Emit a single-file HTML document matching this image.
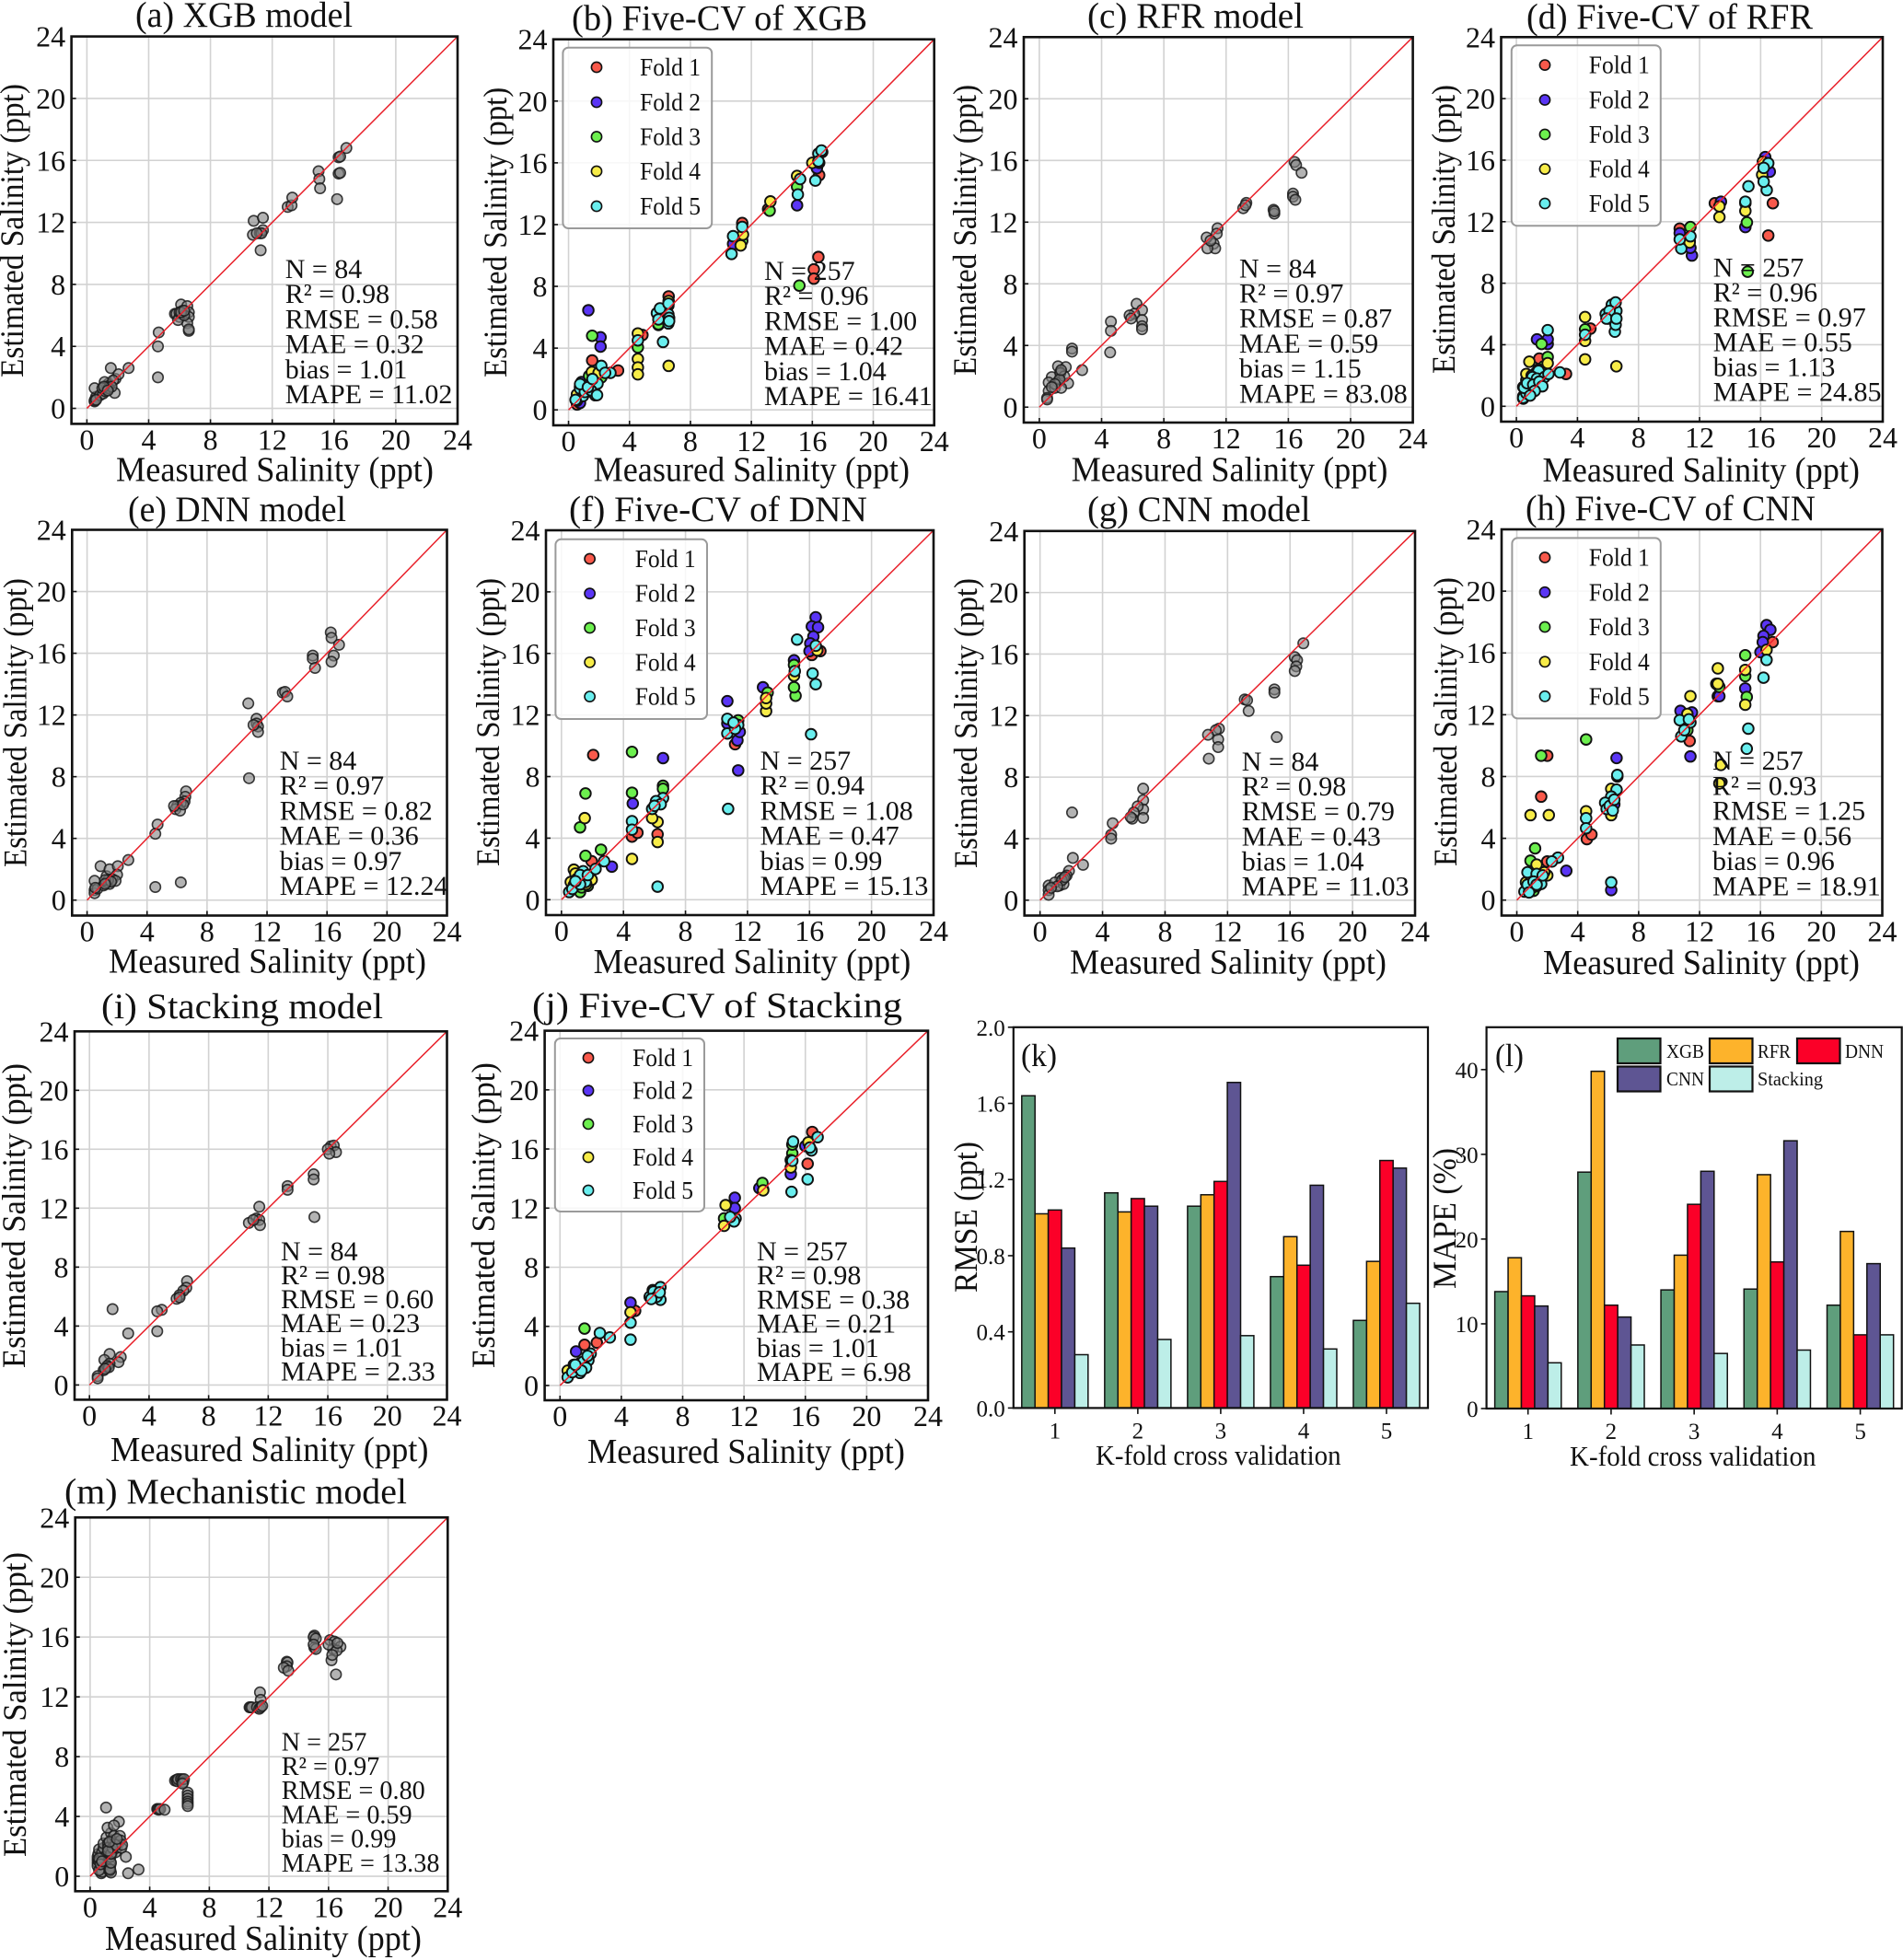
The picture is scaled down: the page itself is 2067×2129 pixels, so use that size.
<!DOCTYPE html>
<html lang="en">
<head>
<meta charset="utf-8">
<title>Salinity model comparison</title>
<style>
html,body{margin:0;padding:0;background:#fff;}
svg{display:block;}
text{font-family:"Liberation Serif","Times New Roman",serif;fill:#111;}
</style>
</head>
<body>
<svg id="figure" xmlns="http://www.w3.org/2000/svg" width="2067" height="2129" viewBox="0 0 2067 2129"></svg>
<script>
/* ---------- chart data ---------- */
const tickValues=[0,4,8,12,16,20,24];
const foldNames=['Fold 1','Fold 2','Fold 3','Fold 4','Fold 5'];
const statNames=['N','R²','RMSE','MAE','bias','MAPE'];

const statsA=['84','0.98','0.58','0.32','1.01','11.02'];
const statsB=['257','0.96','1.00','0.42','1.04','16.41'];
const statsC=['84','0.97','0.87','0.59','1.15','83.08'];
const statsD=['257','0.96','0.97','0.55','1.13','24.85'];
const statsE=['84','0.97','0.82','0.36','0.97','12.24'];
const statsF=['257','0.94','1.08','0.47','0.99','15.13'];
const statsG=['84','0.98','0.79','0.43','1.04','11.03'];
const statsH=['257','0.93','1.25','0.56','0.96','18.91'];
const statsI=['84','0.98','0.60','0.23','1.01','2.33'];
const statsJ=['257','0.98','0.38','0.21','1.01','6.98'];
const statsM=['257','0.97','0.80','0.59','0.99','13.38'];

const xgbModel=[[0.5,0.45],[0.55,0.6],[0.6,0.75],[0.5,1.3],[0.5,0.5],[0.85,0.85],[1.05,0.95],[1.25,1.25],[1.4,1.6],[1.15,1.7],[1.3,1.4],[1.5,1.5],[1.2,1.1],[1.55,2.6],[1.8,1.0],[1.85,1.9],[2.05,2.2],[1.7,1.8],[2.7,2.6],[0.6,0.55],[1.0,1.3],[1.4,1.3],[1.6,1.4],[1.1,1.4],[1.35,1.15],[4.6,2.0],[4.6,4.0],[4.65,4.9],[6.1,6.7],[5.7,6.1],[5.8,6.1],[6.0,5.9],[6.2,6.3],[6.5,6.6],[6.6,6.2],[6.6,5.9],[6.5,5.5],[6.6,5.0],[6.6,5.1],[5.9,5.7],[6.0,6.2],[6.3,6.0],[6.1,6.2],[6.3,6.3],[10.8,12.1],[11.4,12.3],[10.75,11.2],[11.2,11.3],[11.4,11.5],[11.3,11.3],[11.25,10.2],[11.0,11.3],[13.0,13.0],[13.25,13.1],[13.3,13.6],[15.0,15.3],[15.05,14.8],[15.1,14.2],[16.2,13.5],[16.3,15.15],[16.4,15.2],[16.3,16.2],[16.4,16.25],[16.8,16.8]];

const rfrModel=[[16.4,15.9],[16.5,15.7],[16.85,15.2],[16.3,13.85],[16.3,13.65],[16.45,13.45],[15.05,12.8],[15.1,12.55],[15.1,12.7],[13.3,13.25],[13.1,12.9],[13.25,13.1],[11.45,11.6],[11.4,11.25],[11.2,10.6],[11.3,10.3],[10.8,10.3],[10.75,11],[11,10.8],[6.25,6.7],[6.6,6.3],[6.1,6.05],[5.8,5.95],[5.9,5.75],[6.6,5.65],[6.6,5.25],[6.6,5.05],[4.6,5.55],[4.6,4.95],[4.55,3.55],[2.1,3.8],[2.1,3.6],[2.75,2.4],[1.2,2.65],[1.7,2.6],[1.35,2.25],[1.85,1.55],[0.8,1.95],[0.6,1.6],[1.2,1.65],[1.35,2.2],[0.6,1.05],[0.5,0.6],[0.5,0.5],[1,1.25],[1.4,1.25],[1.6,2],[1.3,1.8],[1.0,1.5],[1.4,2.4],[0.8,1.3]];

const dnnModel=[[16.25,17.35],[16.3,17],[16.8,16.55],[16.45,15.85],[16.3,15.45],[15.05,15.85],[15.05,15.65],[15.2,15.05],[13.05,13.45],[13.2,13.5],[13.35,13.2],[10.75,12.75],[10.8,7.9],[11.3,11.75],[11.3,11.45],[11.4,11.25],[11.4,10.9],[11.1,11.35],[6.6,7.05],[6.55,6.7],[6.5,6.4],[6.25,6.3],[6,6.1],[5.9,5.9],[6.2,5.8],[5.8,6.1],[6.4,6.2],[4.7,4.9],[4.55,4.3],[4.55,0.85],[6.25,1.15],[2.75,2.6],[0.9,2.2],[0.5,1.25],[0.5,0.65],[0.5,0.45],[0.7,0.75],[1.3,1.55],[1.5,2],[2.05,2.2],[2,1.65],[1.5,1.05],[1.1,0.95],[1.7,1.35],[1.3,1.15],[1.9,1.25],[0.55,0.8],[1.4,1.3],[1.2,1.3],[1.6,1.2],[1.2,1.05]];

const cnnModel=[[16.85,16.7],[16.3,15.8],[16.45,15.6],[16.4,15.2],[16.3,14.9],[15,13.7],[15,13.5],[15.15,10.6],[13.1,13.05],[13.25,13],[13.35,12.3],[11.45,11.15],[11.25,11.05],[10.75,10.75],[11.4,10.45],[11.4,9.95],[10.8,9.2],[6.6,7.25],[6.6,6.5],[6.6,5.9],[6.6,5.35],[6.25,6.1],[6,5.7],[5.9,5.3],[5.8,5.4],[4.65,5],[4.55,4.25],[4.55,4],[2.05,5.7],[2.1,2.75],[2.75,2.3],[1.85,1.9],[1.7,1.6],[1.3,1.45],[1.5,1.4],[1.25,0.95],[0.55,0.95],[0.55,0.65],[0.55,0.35],[0.95,1.15],[1.5,1.05],[1.4,1.3],[1.6,1.5],[1.1,0.9],[0.7,0.8]];

const stackingModel=[[16.2,16.2],[16.4,16.25],[16,16],[16.55,15.8],[16.1,15.7],[15.05,14.3],[15.05,13.95],[15.1,11.4],[13.3,13.5],[13.3,13.25],[11.4,12.1],[11.2,11.3],[11.4,11.2],[10.7,11],[11.45,10.85],[11,11.2],[6.55,7.05],[6.5,6.6],[6.3,6.4],[6.05,6.1],[5.85,5.85],[6.05,5.95],[4.85,5.1],[4.55,5],[4.55,3.65],[1.55,5.15],[2.6,3.5],[2.1,1.9],[1.35,2.1],[1,1.7],[1.95,1.55],[1.15,1.2],[1.35,1.45],[0.95,1],[0.55,0.6],[0.55,0.45],[1.2,1.3],[1.3,1.2],[1.05,1.1]];

const mechanisticModel=[[0.5,0.9],[0.5,1.1],[0.5,1.3],[0.5,0.7],[0.55,1.5],[0.6,1.8],[0.7,0.5],[0.7,1.2],[0.75,0.2],[0.8,0.3],[0.8,1.6],[0.9,1.9],[0.9,2.2],[1.0,1.0],[1.1,2.6],[1.1,1.4],[1.2,2.2],[1.25,0.5],[1.3,0.35],[1.35,0.7],[1.35,1.0],[1.35,1.3],[1.35,1.7],[1.35,2.0],[1.4,2.9],[1.4,0.25],[1.45,1.5],[1.5,2.4],[1.55,1.8],[1.6,2.7],[1.7,1.6],[1.8,1.9],[1.9,2.2],[2.0,2.7],[2.05,2.4],[2.1,1.9],[2.15,2.1],[1.2,1.9],[0.6,1.0],[0.6,1.2],[0.6,0.4],[0.7,0.8],[0.8,1.0],[1.3,0.5],[1.35,0.45],[1.4,0.9],[1.4,1.5],[1.5,1.9],[1.7,2.1],[1.2,1.7],[1.3,2.3],[1.8,2.5],[1.07,4.6],[1.93,3.65],[1.17,3.25],[1.6,3.4],[2.4,1.3],[2.55,0.2],[3.25,0.45],[4.5,4.5],[4.55,4.5],[4.6,4.45],[4.7,4.5],[5,4.45],[5.7,6.4],[5.8,6.45],[5.85,6.35],[5.9,6.5],[6.1,6.5],[6.2,6.45],[6.25,6.3],[6.3,6.5],[6.2,6.2],[6.55,5.6],[6.55,5.4],[6.55,5.2],[6.55,5.0],[6.55,4.85],[6.55,4.7],[11.4,12.3],[11.45,11.8],[10.7,11.3],[10.75,11.3],[10.85,11.3],[11.2,11.3],[11.35,11.2],[11.45,11.3],[11.55,11.4],[13.2,14.35],[13.25,14.3],[13.2,14.05],[13,13.95],[13.3,13.75],[15.05,16.1],[15,16],[15.15,15.9],[15.05,15.3],[15.15,15.2],[15,15.5],[16.1,15.8],[16.4,15.7],[16.8,15.35],[16.3,15.2],[16.2,14.45],[16.5,13.5],[16,15.5],[16.55,15.1],[16.25,14.8],[16.6,15.6]];

const xgbFold1=[[16.4,9.9],[16.1,9.1],[16.1,8.5],[16.45,15.2],[16.65,16.7],[11.4,12.1],[13.1,13],[6.57,7.35],[4.85,4.85],[1.55,3.2],[3.25,2.55],[0.6,0.5],[1.3,1.2],[0.56,0.35]];
const xgbFold2=[[1.3,6.45],[2.1,4.7],[2.1,4.1],[15,13.25],[16.3,15.65],[16.45,16],[10.8,10.75],[0.85,1.8],[0.75,0.45]];
const xgbFold3=[[1.55,4.8],[15.15,8.05],[4.55,4.05],[15,14.45],[13.2,12.9],[5.9,5.5],[11.4,10.95],[1.35,2.2],[0.55,0.9],[2.15,2.1],[5.9,5.55]];
const xgbFold4=[[6.57,2.85],[4.55,3.3],[4.55,2.75],[4.55,2.3],[4.55,4.95],[15,15.15],[13.25,13.5],[11.3,10.65],[11.45,11.35],[16,16],[6.57,7.05],[1.75,2.3],[0.55,1],[1.53,2.45],[1.97,2.4]];
const xgbFold5=[[6.2,4.4],[16.2,14.85],[15.05,13.95],[15.2,14.95],[10.7,10.1],[10.8,11.25],[11.4,11.85],[16.4,16.6],[16.6,16.8],[16.4,16.1],[6.55,5.6],[5.9,6.1],[6.15,6.3],[6.55,6.75],[6.55,6.2],[4.55,4.5],[2.15,2.85],[2.75,2.4],[0.75,1.5],[1.15,1.2],[1.75,0.95],[0.55,0.6],[1.35,1.5],[1.9,1.7],[0.95,0.9],[0.46,0.65],[0.76,1.37],[1.07,1.16],[1.47,1.27],[1.87,0.96],[0.76,1.67],[1.27,1.47],[2.4,2.4],[1.57,2],[5.8,6.27],[6,6.57],[6.56,6.88],[6.6,5.96],[6.6,5.75],[5.9,5.86]];

const rfrFold1=[[16.8,13.2],[16.5,11.1],[13,13.2],[10.7,11.55],[4.85,5.05],[3.25,2.1],[1.5,3.1],[0.45,0.5]];
const rfrFold2=[[16.3,16.2],[16.6,15.25],[13.4,13.3],[15,11.65],[11.5,9.8],[11.4,10.3],[10.7,11.25],[1.35,4.35],[2.05,4.05],[2.05,4.35],[0.45,1.25]];
const rfrFold3=[[15.15,8.75],[15.1,11.95],[11.4,11.65],[1.65,4.05],[2.05,3.2],[6.05,5.7],[4.5,5],[11.35,10.75],[15,13.2],[0.65,1.7],[1.3,2.2],[1.8,2.6]];
const rfrFold4=[[6.55,2.6],[4.5,3.05],[4.5,5.8],[4.5,4.25],[0.85,2.9],[2.05,2.8],[13.3,13],[13.3,12.3],[15,12.7],[16.15,15.9],[16.1,15.05],[11.35,10.65],[0.65,2.1],[1.45,2.4],[0.45,0.65],[1.0,2.0],[1.6,2.0],[1.2,1.6]];
const rfrFold5=[[2.05,4.95],[15.2,14.3],[15,13.3],[16.4,14.05],[16.2,14.6],[16.5,15.8],[16.2,15.5],[10.8,10.25],[10.7,10.85],[11.4,11.05],[6.45,4.85],[6.5,5.3],[6.55,6.2],[6.25,6.6],[5.85,6],[4.5,4.65],[2.85,2.2],[1.45,2.3],[1.05,1.9],[0.45,0.55],[0.85,1.15],[1.35,1.8],[1.85,1.9],[0.65,0.85],[0.5,1.2],[0.7,1.5],[1.1,1.4],[1.5,1.6],[1.7,1.3],[1.2,1.0],[0.9,0.7],[2.1,2.1],[6.5,6.75],[6.1,6.2],[5.9,5.7],[6.55,5.7]];

const dnnFold1=[[2.05,9.4],[6.2,4.25],[4.55,4.1],[4.9,4.35],[16.15,15.9],[16.7,16.15],[11.2,10.1],[1.95,2.5]];
const dnnFold2=[[16.4,18.35],[16.15,17.75],[16.55,17.7],[16.25,17.1],[16.05,16.65],[16,16.15],[13,13.8],[10.7,12.9],[6.55,9.2],[11.4,8.4],[4.6,6.25],[3.25,2.15],[15,15.55],[11.35,10.35],[11.5,10.9],[10.7,11.45]];
const dnnFold3=[[4.55,9.6],[1.55,6.9],[4.55,6.95],[1.2,4.7],[2.55,3.25],[1.55,2.85],[6.55,7.4],[6.55,7.2],[15.1,13.25],[15,13.8],[15,15.25],[13.3,13.45],[11.4,11.65],[1.2,0.5],[1.3,0.8],[1.7,0.9]];
const dnnFold4=[[1.5,5.3],[4.55,2.65],[6.2,3.75],[6.2,5.05],[5.85,5.3],[13.2,12.25],[13.2,12.75],[15,14.55],[0.8,1.95],[1.95,1.3],[0.6,1.15],[13.2,13.1],[11.2,11.25],[16.5,16.2],[1.2,1.7],[0.9,1.7],[1.6,1.0]];
const dnnFold5=[[10.75,5.9],[16.1,10.75],[16.4,14],[16.2,14.7],[15.2,16.9],[15.05,14.85],[16.4,16.5],[10.7,11.75],[10.7,10.8],[11.4,11.35],[4.55,5.1],[4.55,4.55],[6.2,0.85],[6.55,6.6],[6.1,6.4],[5.85,5.9],[2.75,2.5],[1.4,1.35],[1,1.35],[0.5,0.5],[1.4,1.85],[1.55,1.15],[0.8,0.95],[0.7,0.7],[1.2,1.0],[1.2,1.6],[0.9,1.2],[1.7,1.6],[6.4,6.2],[6.0,6.1],[2.2,2.0],[11.2,11.1],[11.1,11.5]];

const cnnFold1=[[2,9.35],[1.6,6.7],[4.6,3.95],[4.9,4.25],[16.8,16.7],[11.35,10.3],[13.2,13.2],[2,2.5]];
const cnnFold2=[[16.4,17.8],[16.65,17.5],[16.2,17.1],[16.15,16.7],[16,16.05],[15,13.7],[13.1,14],[13.3,13.2],[10.75,12.25],[11.5,12.15],[11.4,9.3],[6.55,9.2],[3.25,1.9],[6.2,0.65],[6.4,6.2]];
const cnnFold3=[[1.6,9.35],[4.55,10.4],[1.2,3.35],[0.9,2.55],[15,15.85],[15.1,13.15],[15,14.5],[13.3,13.8],[11.2,11],[1.1,0.6],[6.6,8],[1.1,1.8],[1.0,0.8]];
const cnnFold4=[[0.9,5.5],[2.1,5.5],[13.2,15],[13.2,14],[11.4,13.2],[13.4,8.75],[13.3,7.55],[4.55,5.75],[6.2,5.5],[6.2,7.2],[15,12.65],[16.4,16.2],[11.2,12.05],[15,14.9],[0.6,1.15],[1.3,2.3],[2,1.6],[0.9,1.2],[1.8,1.8],[1.3,0.9]];
const cnnFold5=[[15.2,11.1],[15.1,9.8],[16.2,14.4],[16.4,15.55],[6.2,1.15],[10.8,10.6],[10.7,11.65],[11.4,11.5],[6.6,8.1],[6.55,7.15],[6.2,6.7],[5.8,6.3],[5.9,5.9],[4.55,5.3],[4.55,4.65],[2.7,2.75],[2.3,2.5],[0.7,1.8],[1.4,1.4],[1.6,1.05],[0.5,0.55],[1,0.85],[1.3,1.7],[0.7,1.0],[1.1,1.2],[1.3,1.0],[1.7,1.6],[0.8,0.5],[6.1,6.1],[6.4,6.5],[6.3,5.8],[11,11],[11.3,11.7]];

const stackFold1=[[16.45,17.15],[16.15,15],[4.9,5.05],[2.4,2.9],[1.6,2.75],[13.25,13.25]];
const stackFold2=[[11.4,12.7],[11.4,12],[15.05,14.3],[16,16.2],[4.6,5.6],[13,13.35],[1.05,2.3]];
const stackFold3=[[1.6,3.85],[13.2,13.7],[15.15,15.7],[15.15,16.3],[15.05,15.25],[10.7,11.3],[6.45,6.15]];
const stackFold4=[[10.8,12.2],[10.7,10.8],[15.05,14.75],[16.2,16.45],[13.25,13.2],[4.6,4.95],[0.5,1],[1.3,1.5],[6.05,6.45]];
const stackFold5=[[15.1,13.1],[16.15,13.95],[15.2,16.5],[16.8,16.8],[16.4,15.9],[11.45,11.3],[11.25,11.2],[6.55,6.65],[6.55,5.8],[6.05,6.15],[5.85,6],[4.6,3.1],[4.6,4.25],[2.6,3.55],[3.25,3.25],[2,2.15],[1.85,1.7],[0.9,1.4],[1.5,1.4],[0.5,0.55],[1.05,1],[1.3,0.85],[0.8,0.9],[1.2,1.2],[1.5,1.6],[1.7,1.2],[1.4,1.0],[1.8,2.0],[1,1.4],[6.1,6.35],[6.3,6.0],[5.95,5.85],[6.5,6.3],[11.35,11.1],[11.1,11.4],[15.15,15.2],[16.3,16.1]];

const kFolds=['1','2','3','4','5'];
const barModels=['XGB','RFR','DNN','CNN','Stacking'];
const rmseXgb=[1.64,1.13,1.06,0.69,0.46];
const rmseRfr=[1.02,1.03,1.12,0.90,0.77];
const rmseDnn=[1.04,1.10,1.19,0.75,1.30];
const rmseCnn=[0.84,1.06,1.71,1.17,1.26];
const rmseStacking=[0.28,0.36,0.38,0.31,0.55];
const rmseTicks=[0,0.4,0.8,1.2,1.6,2.0];
const mapeXgb=[13.8,27.9,14.0,14.1,12.2];
const mapeRfr=[17.8,39.8,18.1,27.6,20.9];
const mapeDnn=[13.3,12.2,24.1,17.3,8.7];
const mapeCnn=[12.1,10.8,28.0,31.6,17.1];
const mapeStacking=[5.4,7.5,6.5,6.9,8.7];
const mapeTicks=[0,10,20,30,40];

/* ---------- layout and styling ---------- */
const foldColors=['#f9594b','#5a35f5','#6cf04e','#f7ec48','#69eeee'];
const barColors=['#5f9e7c','#fdb32b','#fb0028','#5e5593','#bdeee8'];
const svg=document.getElementById('figure');
const NS='http://www.w3.org/2000/svg';
function mk(tag,attrs,parent,txt){
  const n=document.createElementNS(NS,tag);
  for(const k in attrs){n.setAttribute(k,attrs[k]);}
  if(txt!==undefined){n.textContent=txt;}
  parent.appendChild(n);
  return n;
}
function xPos(p,v){return p.L+(v+1)/25*(p.R-p.L);}
function yPos(p,v){return p.B-(v+1)/25*(p.B-p.T);}

function drawScatter(p){
  const g=mk('g',{},svg);
  
  
  const title=mk('text',{x:p.tx[0],y:p.tb,'font-size':39,textLength:p.tx[1]-p.tx[0],lengthAdjust:'spacingAndGlyphs'},g,p.title);
  
  
  tickValues.forEach(function(v){
    const gx=mk('line',{x1:xPos(p,v),x2:xPos(p,v),y1:p.T,y2:p.B,stroke:'#d2d2d2','stroke-width':1.6},g);
    
    
    const gy=mk('line',{x1:p.L,x2:p.R,y1:yPos(p,v),y2:yPos(p,v),stroke:'#d2d2d2','stroke-width':1.6},g);
    
    
    const tx=mk('line',{x1:xPos(p,v),x2:xPos(p,v),y1:p.B,y2:p.B-5,stroke:'#111','stroke-width':1.6},g);
    
    
    const ty=mk('line',{x1:p.L,x2:p.L+5,y1:yPos(p,v),y2:yPos(p,v),stroke:'#111','stroke-width':1.6},g);
    
    
    const lx=mk('text',{x:xPos(p,v),y:p.B+28,'font-size':32,'text-anchor':'middle'},g,String(v));
    
    
    const ly=mk('text',{x:p.L-6.5,y:yPos(p,v)+11,'font-size':32,'text-anchor':'end'},g,String(v));
    
    
  });
  if(p.points){
    p.points.forEach(function(d){
      const c=mk('circle',{cx:xPos(p,d[0]),cy:yPos(p,d[1]),r:5.7,fill:'#808080','fill-opacity':0.6,stroke:'#1a1a1a','stroke-width':1.6,'stroke-opacity':0.85},g);
      
      
    });
  }
  if(p.folds){
    p.folds.forEach(function(arr,i){
      arr.forEach(function(d){
        const c=mk('circle',{cx:xPos(p,d[0]),cy:yPos(p,d[1]),r:5.8,fill:foldColors[i],stroke:'#111','stroke-width':1.9},g);
        
        
      });
    });
  }
  const line=mk('line',{x1:xPos(p,0),y1:yPos(p,0),x2:xPos(p,24),y2:yPos(p,24),stroke:'#e8202a','stroke-width':1.5},g);
  
  
  const frame=mk('rect',{x:p.L,y:p.T,width:p.R-p.L,height:p.B-p.T,fill:'none',stroke:'#111','stroke-width':2.6},g);
  
  
  if(p.legend){
    const l=p.legend;
    const box=mk('rect',{x:l.x,y:l.y,width:l.w,height:l.h,rx:6,ry:6,fill:'#fff','fill-opacity':0.82,stroke:'#9a9a9a','stroke-width':2},g);
    
    
    foldNames.forEach(function(name,i){
      const m=mk('circle',{cx:l.mx,cy:l.ys[i],r:5.6,fill:foldColors[i],stroke:'#111','stroke-width':1.6},g);
      
      
      const t=mk('text',{x:l.tx,y:l.ys[i]+9,'font-size':27,textLength:66,lengthAdjust:'spacingAndGlyphs'},g,name);
      
      
    });
  }
  const step=(p.sb[1]-p.sb[0])/5;
  statNames.forEach(function(name,i){
    const t=mk('text',{x:p.sx,y:p.sb[0]+i*step,'font-size':p.sf||30},g,name+' = '+p.stats[i]);
    
    
  });
  const xl=mk('text',{x:p.xl[0],y:p.xl[2],'font-size':38,textLength:p.xl[1]-p.xl[0],lengthAdjust:'spacingAndGlyphs'},g,'Measured Salinity (ppt)');
  
  
  const yl=mk('text',{transform:'translate('+p.yl[0]+','+p.yl[2]+') rotate(-90)','font-size':36,textLength:p.yl[2]-p.yl[1],lengthAdjust:'spacingAndGlyphs'},g,'Estimated Salinity (ppt)');
  
  
}

function drawBars(p){
  const g=mk('g',{},svg);
  
  
  const band=(p.R-p.L)/kFolds.length;
  const bw=band*0.8/p.series.length;
  function yv(v){return p.B-v/p.max*(p.B-p.T);}
  function xc(i){return p.L+(i+0.5)*band;}
  p.series.forEach(function(values,s){
    values.forEach(function(v,i){
      const b=mk('rect',{x:xc(i)+(s-2.5)*bw,y:yv(v),width:bw,height:p.B-yv(v),fill:barColors[s],stroke:'#111','stroke-width':1.5},g);
      
      
    });
  });
  const frame=mk('rect',{x:p.L,y:p.T,width:p.R-p.L,height:p.B-p.T,fill:'none',stroke:'#111','stroke-width':2.2},g);
  
  
  kFolds.forEach(function(label,i){
    const tk=mk('line',{x1:xc(i),x2:xc(i),y1:p.B,y2:p.B+6.5,stroke:'#111','stroke-width':1.6},g);
    
    
    const t=mk('text',{x:xc(i),y:p.B+33,'font-size':25,'text-anchor':'middle'},g,label);
    
    
  });
  p.ticks.forEach(function(v){
    const tk=mk('line',{x1:p.L-6,x2:p.L,y1:yv(v),y2:yv(v),stroke:'#111','stroke-width':1.6},g);
    
    
    const t=mk('text',{x:p.L-9,y:yv(v)+9,'font-size':25,'text-anchor':'end'},g,v.toFixed(p.dec));
    
    
  });
  const tag=mk('text',{x:p.tag[0],y:p.tag[2],'font-size':35,textLength:p.tag[1]-p.tag[0],lengthAdjust:'spacingAndGlyphs'},g,p.tagText);
  
  
  const xl=mk('text',{x:p.xl[0],y:p.xl[2],'font-size':31,textLength:p.xl[1]-p.xl[0],lengthAdjust:'spacingAndGlyphs'},g,'K-fold cross validation');
  
  
  const yl=mk('text',{transform:'translate('+p.yl[0]+','+p.yl[2]+') rotate(-90)','font-size':36,textLength:p.yl[2]-p.yl[1],lengthAdjust:'spacingAndGlyphs'},g,p.ylabel);
  
  
}

/* ---------- panels ---------- */
const layouts=[
 {id:'a',title:'(a) XGB model',L:77.6,R:497,T:39.6,B:460.4,tx:[147,383],tb:29,sx:309.7,sb:[302,438],xl:[126,471,522.7],yl:[25,91,410],points:xgbModel,stats:statsA},
 {id:'b',title:'(b) Five-CV of XGB',L:601,R:1014.7,T:42.7,B:462,tx:[621,942],tb:32.7,sx:830,sb:[304,440],xl:[644.6,988,522.7],yl:[550,94.7,410],folds:[xgbFold1,xgbFold2,xgbFold3,xgbFold4,xgbFold5],stats:statsB,legend:{x:611.4,y:51.7,w:161.8,h:196.3,mx:648,tx:695,ys:[73,111,148.5,186,224]}},
 {id:'c',title:'(c) RFR model',L:1112,R:1534.6,T:40.3,B:459,tx:[1181,1416],tb:30,sx:1346,sb:[301.3,437.3],xl:[1163.6,1507.5,522.7],yl:[1060,92,408],points:rfrModel,stats:statsC},
 {id:'d',title:'(d) Five-CV of RFR',L:1630.5,R:2045,T:40.3,B:458,tx:[1658,1969],tb:31,sx:1860.7,sb:[300.6,435.6],xl:[1675.5,2020,523],yl:[1580,92,406],folds:[rfrFold1,rfrFold2,rfrFold3,rfrFold4,rfrFold5],stats:statsD,legend:{x:1641.8,y:49.2,w:162,h:196,mx:1678,tx:1725.8,ys:[70.6,108.5,146,183.6,221]}},
 {id:'e',title:'(e) DNN model',L:78.3,R:485.5,T:575.5,B:994.5,tx:[139,376],tb:566,sx:303.7,sb:[836,972],xl:[118,463,1056.5],yl:[28.5,628,942],points:dnnModel,stats:statsE},
 {id:'f',title:'(f) Five-CV of DNN',L:593,R:1014,T:576,B:994,tx:[618,942],tb:566,sx:825.6,sb:[836,972],xl:[644.6,989.4,1057],yl:[542,628,941],folds:[dnnFold1,dnnFold2,dnnFold3,dnnFold4,dnnFold5],stats:statsF,legend:{x:603.4,y:585.8,w:164.6,h:195.2,mx:640.6,tx:689.7,ys:[607,644.7,682,719.4,756.6]}},
 {id:'g',title:'(g) CNN model',L:1112.7,R:1537,T:576.8,B:994.5,tx:[1181,1423.5],tb:566,sx:1348.8,sb:[837,972.5],xl:[1162,1506,1057.6],yl:[1061,628,943],points:cnnModel,stats:statsG},
 {id:'h',title:'(h) Five-CV of CNN',L:1631,R:2044.5,T:575,B:994.5,tx:[1657,1972],tb:565,sx:1860,sb:[836,972.5],xl:[1676,2020,1058],yl:[1582,627,941],folds:[cnnFold1,cnnFold2,cnnFold3,cnnFold4,cnnFold5],stats:statsH,legend:{x:1642.4,y:584.4,w:161.4,h:196,mx:1678,tx:1725.8,ys:[605.5,643.3,681,718.8,756.3]}},
 {id:'i',title:'(i) Stacking model',L:81,R:485.5,T:1120.3,B:1520.4,tx:[110,416],tb:1106,sx:305,sb:[1369,1499.4],xl:[120,465.5,1587],yl:[27,1155,1486],points:stackingModel,stats:statsI},
 {id:'j',title:'(j) Five-CV of Stacking',L:591.6,R:1008,T:1119.6,B:1521,tx:[578,980],tb:1105,sx:822,sb:[1369,1500],xl:[638,983,1589],yl:[537,1154,1486],folds:[stackFold1,stackFold2,stackFold3,stackFold4,stackFold5],stats:statsJ,legend:{x:602.8,y:1128,w:162.2,h:188,mx:639,tx:687,ys:[1149,1184.7,1220.9,1257,1293]}},
 {id:'m',title:'(m) Mechanistic model',L:81.7,R:486.3,T:1648.3,B:2054.3,tx:[70,442],tb:1633,sx:305.7,sb:[1901.7,2033],sf:28.2,xl:[114,458,2118],yl:[28,1686,2017],points:mechanisticModel,stats:statsM}
];
layouts.forEach(drawScatter);

drawBars({id:'k',L:1100.8,R:1551,T:1115.8,B:1529.4,max:2.0,dec:1,ticks:rmseTicks,series:[rmseXgb,rmseRfr,rmseDnn,rmseCnn,rmseStacking],tagText:'(k)',tag:[1109,1148,1158],xl:[1190,1456.6,1591],ylabel:'RMSE (ppt)',yl:[1061,1240,1404]});
drawBars({id:'l',L:1614.6,R:2065.7,T:1115.8,B:1530,max:45,dec:0,ticks:mapeTicks,series:[mapeXgb,mapeRfr,mapeDnn,mapeCnn,mapeStacking],tagText:'(l)',tag:[1624,1655,1158],xl:[1705,1972.5,1592],ylabel:'MAPE (%)',yl:[1581,1247,1400]});

const swatches=[
 {x:1757,y:1128,tx:1810,tw:41,b:1149},
 {x:1857,y:1128,tx:1909,tw:36,b:1149},
 {x:1952,y:1128,tx:2004,tw:42,b:1149},
 {x:1757,y:1158.5,tx:1810,tw:41,b:1179},
 {x:1857,y:1158.5,tx:1909,tw:71,b:1179}
];
barModels.forEach(function(name,i){
  const s=swatches[i];
  const r=mk('rect',{x:s.x,y:s.y,width:46.5,height:27,fill:barColors[i],stroke:'#111','stroke-width':2.2},svg);
  
  
  const t=mk('text',{x:s.tx,y:s.b,'font-size':21,textLength:s.tw,lengthAdjust:'spacingAndGlyphs'},svg,name);
  
  
});
</script>
</body>
</html>
